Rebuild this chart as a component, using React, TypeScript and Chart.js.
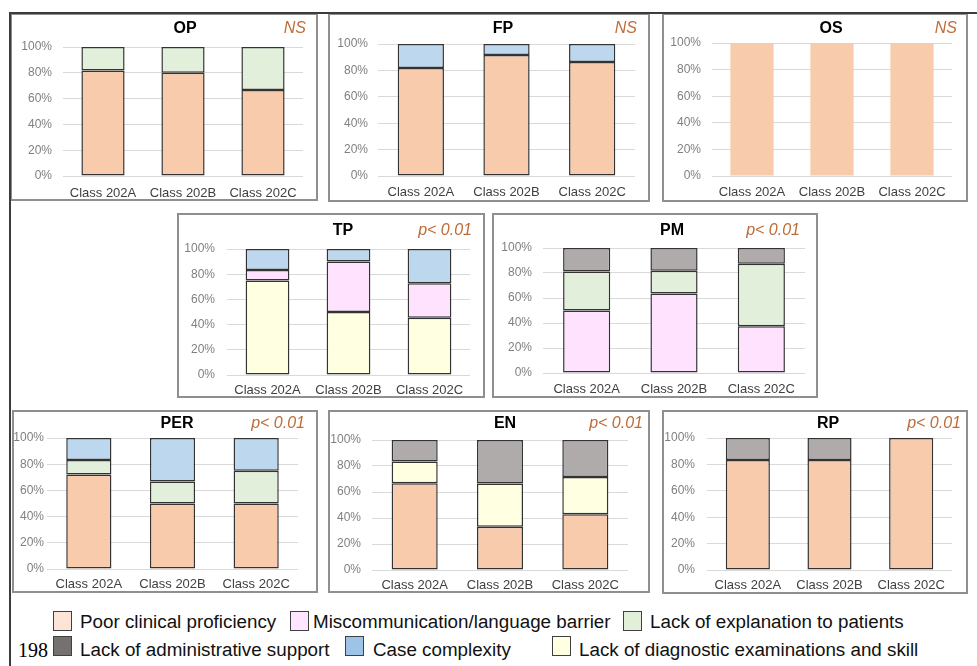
import React, { useEffect, useRef } from 'react';
import { Chart, registerables } from 'chart.js';

Chart.register(...registerables);
Chart.defaults.font.family = '"Liberation Sans", Arial, sans-serif';

// ---------- data ----------
const CLASSES = ['Class 202A', 'Class 202B', 'Class 202C'];
const Y_TICKS = [0, 20, 40, 60, 80, 100];

// stacking order (bottom -> top)
const SERIES_KEYS = ['poor', 'diagnostic', 'miscomm', 'explanation', 'admin', 'complexity'];
const SERIES_NAMES: Record<string, string> = {
  poor: 'Poor clinical proficiency',
  diagnostic: 'Lack of diagnostic examinations and skill',
  miscomm: 'Miscommunication/language barrier',
  explanation: 'Lack of explanation to patients',
  admin: 'Lack of administrative support',
  complexity: 'Case complexity',
};

const OP_DATA = { poor: [81.8, 80, 66.7], explanation: [18.2, 20, 33.3] };
const FP_DATA = { poor: [81.8, 91.7, 86.4], complexity: [18.2, 8.3, 13.6] };
const OS_DATA = { poor: [100, 100, 100] };
const TP_DATA = { diagnostic: [75, 50, 45.5], miscomm: [8.3, 40, 27.3], complexity: [16.7, 10, 27.2] };
const PM_DATA = { miscomm: [50, 63.6, 37.5], explanation: [31.3, 18.2, 50], admin: [18.7, 18.2, 12.5] };
const PER_DATA = { poor: [72.2, 50, 50], explanation: [11.1, 16.7, 25], complexity: [16.7, 33.3, 25] };
const EN_DATA = { poor: [66.7, 33.3, 42.9], diagnostic: [16.7, 33.3, 28.6], admin: [16.6, 33.4, 28.5] };
const RP_DATA = { poor: [83.3, 83.3, 100], admin: [16.7, 16.7, 0] };

const PANEL_TITLES = ['OP', 'FP', 'OS', 'TP', 'PM', 'PER', 'EN', 'RP'];
const PANEL_PVALUES = ['NS', 'NS', 'NS', 'p< 0.01', 'p< 0.01', 'p< 0.01', 'p< 0.01', 'p< 0.01'];
const PANEL_DATA: Record<string, number[]>[] = [OP_DATA, FP_DATA, OS_DATA, TP_DATA, PM_DATA, PER_DATA, EN_DATA, RP_DATA];

// ---------- styles / layout ----------
const BAR_COLORS: Record<string, string> = {
  poor: '#F8CBAD',
  diagnostic: '#FFFFE1',
  miscomm: '#FFE3FE',
  explanation: '#E2EFDA',
  admin: '#AFABAB',
  complexity: '#BDD7EE',
};
const SWATCH_COLORS: Record<string, string> = {
  poor: '#FCE4D6',
  diagnostic: '#FFFFE1',
  miscomm: '#FFE5FF',
  explanation: '#E2F0D9',
  admin: '#767171',
  complexity: '#9DC3E6',
};

type Layout = {
  box: [number, number, number, number];
  plot: [number, number, number, number];
  titleX: number;
  titleY: number;
  pRight: number;
  xPad: number;
  yPad: number;
  outline: boolean;
};

const LAYOUTS: Layout[] = [
  { box: [10, 13, 318, 201], plot: [63, 47, 303, 176], titleX: 185, titleY: 29, pRight: 306, xPad: 2, yPad: 11, outline: true },
  { box: [328, 13, 650, 202], plot: [378, 44, 635, 176], titleX: 503, titleY: 29, pRight: 637, xPad: 1, yPad: 10, outline: true },
  { box: [662, 13, 968, 202], plot: [712, 43, 952, 176], titleX: 831, titleY: 29, pRight: 957, xPad: 1, yPad: 11, outline: false },
  { box: [177, 213, 485, 398], plot: [227, 249, 470, 375], titleX: 343, titleY: 231, pRight: 472, xPad: 0, yPad: 12, outline: true },
  { box: [492, 213, 818, 398], plot: [543, 248, 805, 373], titleX: 672, titleY: 231, pRight: 800, xPad: 1, yPad: 11, outline: true },
  { box: [12, 410, 318, 593], plot: [47, 438, 298, 569], titleX: 177, titleY: 424, pRight: 305, xPad: 0, yPad: 3, outline: true },
  { box: [328, 410, 650, 593], plot: [372, 440, 628, 570], titleX: 505, titleY: 424, pRight: 643, xPad: 0, yPad: 11, outline: true },
  { box: [662, 410, 968, 594], plot: [707, 438, 952, 570], titleX: 828, titleY: 424, pRight: 961, xPad: 0, yPad: 12, outline: true },
];

const LEGEND_ROWS: { key: string; sx: number; tx: number; row: number }[] = [
  { key: 'poor', sx: 53, tx: 80, row: 0 },
  { key: 'miscomm', sx: 290, tx: 313, row: 0 },
  { key: 'explanation', sx: 623, tx: 650, row: 0 },
  { key: 'admin', sx: 53, tx: 80, row: 1 },
  { key: 'complexity', sx: 345, tx: 373, row: 1 },
  { key: 'diagnostic', sx: 552, tx: 579, row: 1 },
];
const LEGEND_SWATCH_TOP = [611, 636];
const LEGEND_TEXT_CENTER = [622, 650];

function Panel({ idx }: { idx: number }) {
  const ref = useRef<HTMLCanvasElement>(null);
  const L = LAYOUTS[idx];
  const [x0, y0, x1, y1] = L.box;
  const [px0, py0, px1, py1] = L.plot;
  const W = x1 - x0;
  const H = y1 - y0;

  useEffect(() => {
    const data = PANEL_DATA[idx];
    const title = PANEL_TITLES[idx];
    const pval = PANEL_PVALUES[idx];
    const textPlugin = {
      id: 'panelText',
      afterDraw(chart: any) {
        const ctx = chart.ctx;
        ctx.save();
        ctx.textBaseline = 'middle';
        ctx.fillStyle = '#000000';
        ctx.textAlign = 'center';
        ctx.font = 'bold 16px "Liberation Sans", Arial, sans-serif';
        ctx.fillText(title, L.titleX - x0, L.titleY - y0);
        ctx.fillStyle = '#BF6B35';
        ctx.textAlign = 'right';
        ctx.font = 'italic 16px "Liberation Sans", Arial, sans-serif';
        ctx.fillText(pval, L.pRight - x0, L.titleY - y0);
        ctx.restore();
      },
    };
    const datasets = SERIES_KEYS.filter((k) => data[k]).map((k) => ({
      label: SERIES_NAMES[k],
      data: data[k].map((v) => (v === 0 ? null : v)),
      backgroundColor: BAR_COLORS[k],
      borderColor: L.outline ? '#333333' : 'rgba(0,0,0,0)',
      borderWidth: L.outline ? 1.5 : 0,
      borderSkipped: false,
      barPercentage: 0.54,
      categoryPercentage: 1,
    }));
    const chart = new Chart(ref.current as HTMLCanvasElement, {
      type: 'bar',
      data: { labels: CLASSES, datasets },
      options: {
        responsive: false,
        animation: false,
        devicePixelRatio: 1,
        events: [],
        layout: { padding: { left: 0, top: py0 - y0, right: x1 - px1, bottom: 0 } },
        plugins: { legend: { display: false }, title: { display: false }, tooltip: { enabled: false } },
        scales: {
          x: {
            stacked: true,
            grid: { display: false },
            border: { display: false },
            ticks: { color: '#404040', font: { size: 13 }, padding: L.xPad, maxRotation: 0, autoSkip: false },
            afterFit: (s: any) => {
              s.height = y1 - py1;
            },
          },
          y: {
            stacked: true,
            min: Y_TICKS[0],
            max: Y_TICKS[Y_TICKS.length - 1],
            afterBuildTicks: (s: any) => {
              s.ticks = Y_TICKS.map((v) => ({ value: v }));
            },
            ticks: { color: '#808080', font: { size: 12 }, padding: L.yPad, callback: (v: any) => v + '%' },
            grid: { color: '#D9D9D9', drawTicks: false, lineWidth: 1 },
            border: { display: false },
            afterFit: (s: any) => {
              s.width = px0 - x0;
            },
          },
        },
      } as any,
      plugins: [textPlugin],
    });
    return () => chart.destroy();
  }, []);

  return (
    <>
      <div
        style={{
          position: 'absolute',
          left: x0,
          top: y0,
          width: W,
          height: H,
          border: '2px solid #8F8F8F',
          boxSizing: 'border-box',
        }}
      />
      <canvas
        ref={ref}
        width={W}
        height={H}
        style={{ position: 'absolute', left: x0, top: y0, width: W, height: H }}
      />
    </>
  );
}

export default function App() {
  return (
    <div
      style={{
        position: 'absolute',
        left: 0,
        top: 0,
        width: 977,
        height: 666,
        overflow: 'hidden',
        background: '#ffffff',
      }}
    >
      {LAYOUTS.map((_, i) => (
        <Panel key={i} idx={i} />
      ))}
      {/* outer frame lines */}
      <div style={{ position: 'absolute', left: 9, top: 12, width: 968, height: 2, background: '#3c3c3c' }} />
      <div style={{ position: 'absolute', left: 9, top: 12, width: 2, height: 654, background: '#3c3c3c' }} />
      {/* legend */}
      {LEGEND_ROWS.map((it) => (
        <React.Fragment key={it.key}>
          <div
            style={{
              position: 'absolute',
              left: it.sx,
              top: LEGEND_SWATCH_TOP[it.row],
              width: 19,
              height: 20,
              background: SWATCH_COLORS[it.key],
              border: '1.5px solid #404040',
              boxSizing: 'border-box',
            }}
          />
          <div
            style={{
              position: 'absolute',
              left: it.tx,
              top: LEGEND_TEXT_CENTER[it.row] - 11,
              height: 22,
              lineHeight: '22px',
              fontSize: 18.8,
              fontFamily: '"Liberation Sans", Arial, sans-serif',
              color: '#111',
              whiteSpace: 'nowrap',
            }}
          >
            {SERIES_NAMES[it.key]}
          </div>
        </React.Fragment>
      ))}
      <div
        style={{
          position: 'absolute',
          left: 18,
          top: 639,
          height: 22,
          lineHeight: '22px',
          fontSize: 20,
          fontFamily: '"Liberation Serif", "Times New Roman", serif',
          color: '#000',
        }}
      >
        198
      </div>
    </div>
  );
}
